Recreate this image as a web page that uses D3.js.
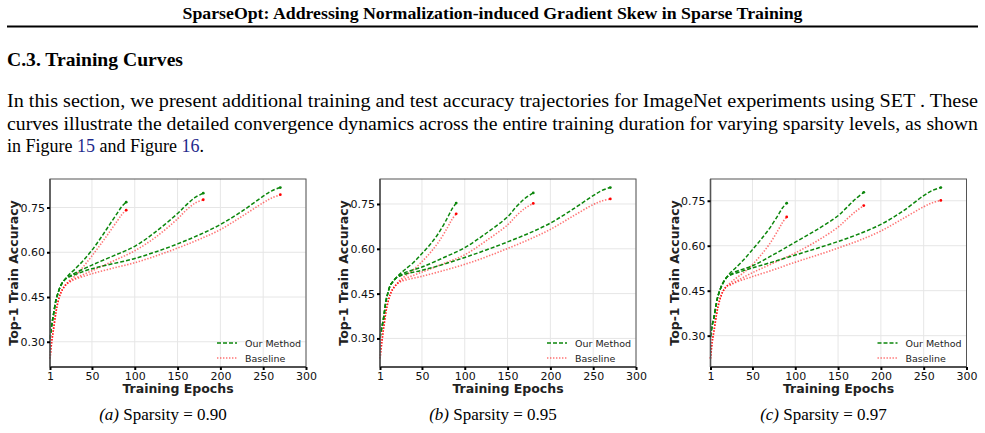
<!DOCTYPE html>
<html>
<head>
<meta charset="utf-8">
<script src="https://cdn.jsdelivr.net/npm/d3@7/dist/d3.min.js"></script>
<style>
  body { margin: 0; background: #fff; }
  svg { display: block; }
</style>
</head>
<body>
<div id="page"></div>
<script>
const epochs90 = [1, 3, 5, 8, 10, 13, 16, 20, 25, 30, 40, 50, 60, 70, 80, 85, 90];
const epochs180 = [1, 3, 5, 8, 10, 13, 16, 20, 25, 30, 50, 75, 100, 125, 150, 160, 170, 180];
const epochs270 = [1, 3, 5, 8, 10, 13, 16, 20, 25, 30, 50, 75, 100, 125, 150, 175, 200, 225, 250, 260, 270];

// (a) sparsity 0.90
const aOur90 = [0.31, 0.355, 0.39, 0.44, 0.46, 0.485, 0.5, 0.515, 0.53, 0.543, 0.573, 0.607, 0.647, 0.69, 0.733, 0.754, 0.768];
const aBase90 = [0.244, 0.3, 0.34, 0.4, 0.43, 0.46, 0.477, 0.494, 0.508, 0.52, 0.552, 0.588, 0.626, 0.666, 0.707, 0.727, 0.741];
const aOur180 = [0.31, 0.355, 0.39, 0.44, 0.46, 0.485, 0.5, 0.513, 0.522, 0.53, 0.557, 0.588, 0.62, 0.67, 0.73, 0.758, 0.783, 0.798];
const aBase180 = [0.244, 0.3, 0.34, 0.4, 0.43, 0.46, 0.477, 0.493, 0.504, 0.512, 0.538, 0.571, 0.605, 0.652, 0.712, 0.741, 0.764, 0.776];
const aOur270 = [0.31, 0.355, 0.39, 0.44, 0.46, 0.485, 0.5, 0.512, 0.519, 0.525, 0.545, 0.562, 0.579, 0.602, 0.628, 0.658, 0.693, 0.737, 0.788, 0.806, 0.817];
const aBase270 = [0.244, 0.3, 0.34, 0.4, 0.43, 0.46, 0.477, 0.492, 0.502, 0.509, 0.528, 0.547, 0.565, 0.588, 0.614, 0.643, 0.676, 0.72, 0.766, 0.782, 0.793];

// (b) sparsity 0.95
const bOur90 = [0.303, 0.335, 0.365, 0.425, 0.45, 0.478, 0.49, 0.503, 0.518, 0.53, 0.554, 0.584, 0.616, 0.655, 0.705, 0.733, 0.753];
const bBase90 = [0.233, 0.285, 0.33, 0.39, 0.418, 0.448, 0.465, 0.48, 0.497, 0.508, 0.53, 0.557, 0.588, 0.625, 0.672, 0.698, 0.717];
const bOur180 = [0.303, 0.335, 0.365, 0.425, 0.45, 0.478, 0.49, 0.503, 0.512, 0.52, 0.539, 0.57, 0.604, 0.652, 0.707, 0.74, 0.768, 0.787];
const bBase180 = [0.233, 0.285, 0.33, 0.39, 0.418, 0.448, 0.465, 0.48, 0.493, 0.5, 0.522, 0.55, 0.58, 0.627, 0.68, 0.71, 0.735, 0.752];
const bOur270 = [0.303, 0.335, 0.365, 0.425, 0.45, 0.478, 0.49, 0.503, 0.51, 0.515, 0.528, 0.548, 0.571, 0.596, 0.623, 0.652, 0.686, 0.73, 0.778, 0.795, 0.805];
const bBase270 = [0.233, 0.285, 0.33, 0.39, 0.418, 0.448, 0.465, 0.48, 0.49, 0.495, 0.508, 0.527, 0.548, 0.573, 0.601, 0.631, 0.665, 0.707, 0.748, 0.76, 0.767];

// (c) sparsity 0.97
const cOur90 = [0.297, 0.335, 0.36, 0.41, 0.435, 0.46, 0.478, 0.495, 0.512, 0.525, 0.554, 0.587, 0.621, 0.658, 0.702, 0.726, 0.742];
const cBase90 = [0.224, 0.28, 0.315, 0.37, 0.4, 0.43, 0.45, 0.465, 0.478, 0.49, 0.511, 0.537, 0.569, 0.606, 0.652, 0.677, 0.696];
const cOur180 = [0.297, 0.335, 0.36, 0.41, 0.435, 0.46, 0.478, 0.495, 0.505, 0.513, 0.533, 0.571, 0.612, 0.653, 0.7, 0.727, 0.755, 0.778];
const cBase180 = [0.224, 0.28, 0.315, 0.37, 0.4, 0.43, 0.45, 0.465, 0.472, 0.48, 0.51, 0.543, 0.576, 0.615, 0.662, 0.688, 0.713, 0.734];
const cOur270 = [0.297, 0.335, 0.36, 0.41, 0.435, 0.46, 0.478, 0.495, 0.503, 0.508, 0.526, 0.547, 0.569, 0.591, 0.614, 0.64, 0.671, 0.714, 0.767, 0.784, 0.794];
const cBase270 = [0.224, 0.28, 0.315, 0.37, 0.4, 0.43, 0.45, 0.465, 0.47, 0.477, 0.497, 0.52, 0.545, 0.568, 0.592, 0.618, 0.649, 0.689, 0.73, 0.743, 0.751];

const xTicks = [1, 50, 100, 150, 200, 250, 300];
const yTicks = [0.3, 0.45, 0.6, 0.75];
const seriesNames = ["Our Method", "Baseline"];
const captionLetters = ["(a)", "(b)", "(c)"];
const captionTexts = ["Sparsity = 0.90", "Sparsity = 0.95", "Sparsity = 0.97"];

const W = 985, H = 433;
const serif = "'Liberation Serif', 'Times New Roman', serif";
const sans = "'DejaVu Sans', sans-serif";
const green = "#0b860b", red = "#ff0000";

const svg = d3.select("#page").append("svg").attr("width", W).attr("height", H);

// ---- page text ----
svg.append("text")
  .attr("x", W / 2).attr("y", 19)
  .attr("text-anchor", "middle")
  .attr("font-family", serif).attr("font-weight", "bold").attr("font-size", 16)
  .attr("textLength", 620).attr("lengthAdjust", "spacingAndGlyphs")
  .text("SparseOpt: Addressing Normalization-induced Gradient Skew in Sparse Training");

svg.append("line")
  .attr("x1", 7).attr("x2", 978).attr("y1", 26.5).attr("y2", 26.5)
  .attr("stroke", "#000").attr("stroke-width", 1.8);

svg.append("text")
  .attr("x", 7).attr("y", 66)
  .attr("font-family", serif).attr("font-weight", "bold").attr("font-size", 19)
  .attr("textLength", 176).attr("lengthAdjust", "spacingAndGlyphs")
  .text("C.3. Training Curves");

const para = [
  "In this section, we present additional training and test accuracy trajectories for ImageNet experiments using SET . These",
  "curves illustrate the detailed convergence dynamics across the entire training duration for varying sparsity levels, as shown"
];
para.forEach((t, i) => {
  svg.append("text")
    .attr("x", 7).attr("y", 107 + i * 22.5)
    .attr("font-family", serif).attr("font-size", 18)
    .attr("textLength", 971).attr("lengthAdjust", "spacingAndGlyphs")
    .text(t);
});
const lastLine = svg.append("text")
  .attr("x", 7).attr("y", 152)
  .attr("font-family", serif).attr("font-size", 18);
lastLine.append("tspan").text("in Figure ");
lastLine.append("tspan").attr("fill", "#1f2a8c").text("15");
lastLine.append("tspan").text(" and Figure ");
lastLine.append("tspan").attr("fill", "#1f2a8c").text("16");
lastLine.append("tspan").text(".");

// ---- panels ----
const panels = [
  { left: 50, runs: [[epochs90, aOur90, aBase90], [epochs180, aOur180, aBase180], [epochs270, aOur270, aBase270]] },
  { left: 380, runs: [[epochs90, bOur90, bBase90], [epochs180, bOur180, bBase180], [epochs270, bOur270, bBase270]] },
  { left: 710.5, runs: [[epochs90, cOur90, cBase90], [epochs180, cOur180, cBase180], [epochs270, cOur270, cBase270]] }
];

const plotTop = 179, pw = 256, ph = 188;

panels.forEach((p, k) => {
  const g = svg.append("g").attr("transform", `translate(${p.left},${plotTop})`);

  const allVals = p.runs.flatMap((r) => r[1].concat(r[2]));
  const lo = d3.min(allVals), hi = d3.max(allVals);
  const pad = (hi - lo) * 0.05;

  const x = d3.scaleLinear().domain([1, 300]).range([0, pw]);
  const y = d3.scaleLinear().domain([lo - pad, hi + pad]).range([ph, 0]);

  // grid
  g.append("g").selectAll("line").data(xTicks).join("line")
    .attr("x1", (d) => x(d)).attr("x2", (d) => x(d))
    .attr("y1", 0).attr("y2", ph)
    .attr("stroke", "#e6e6e6").attr("stroke-width", 1);
  g.append("g").selectAll("line").data(yTicks).join("line")
    .attr("x1", 0).attr("x2", pw)
    .attr("y1", (d) => y(d)).attr("y2", (d) => y(d))
    .attr("stroke", "#e6e6e6").attr("stroke-width", 1);

  // curves
  const line = d3.line().x((d) => x(d[0])).y((d) => y(d[1])).curve(d3.curveCatmullRom.alpha(0.5));
  p.runs.forEach(([ep, ours, base]) => {
    const baseData = ep.map((e, i) => [e, base[i]]);
    const ourData = ep.map((e, i) => [e, ours[i]]);
    g.append("path").datum(baseData)
      .attr("d", line).attr("fill", "none")
      .attr("stroke", red).attr("stroke-opacity", 0.55)
      .attr("stroke-width", 1.6).attr("stroke-dasharray", "1.4,1.6");
    g.append("path").datum(ourData)
      .attr("d", line).attr("fill", "none")
      .attr("stroke", green).attr("stroke-width", 1.5)
      .attr("stroke-dasharray", "4,2");
    g.append("circle").datum(baseData[baseData.length - 1])
      .attr("cx", (d) => x(d[0])).attr("cy", (d) => y(d[1]))
      .attr("r", 1.4).attr("fill", red);
    g.append("circle").datum(ourData[ourData.length - 1])
      .attr("cx", (d) => x(d[0])).attr("cy", (d) => y(d[1]))
      .attr("r", 1.4).attr("fill", green);
  });

  // frame
  g.append("rect").attr("width", pw).attr("height", ph)
    .attr("fill", "none").attr("stroke", "#555").attr("stroke-width", 1);
  g.append("line").attr("x1", 0).attr("x2", 0).attr("y1", 0).attr("y2", ph)
    .attr("stroke", "#555").attr("stroke-width", 1.6);
  g.append("line").attr("x1", 0).attr("x2", pw).attr("y1", ph).attr("y2", ph)
    .attr("stroke", "#333").attr("stroke-width", 1.6);

  // axes
  const xAxis = g.append("g").attr("transform", `translate(0,${ph})`)
    .call(d3.axisBottom(x).tickValues(xTicks).tickSize(3).tickPadding(2).tickFormat(d3.format("d")));
  const yAxis = g.append("g")
    .call(d3.axisLeft(y).tickValues(yTicks).tickSize(3).tickPadding(2).tickFormat(d3.format(".2f")));
  [xAxis, yAxis].forEach((a) => {
    a.select(".domain").remove();
    a.selectAll(".tick line").attr("stroke", "#000").attr("stroke-width", 2);
    a.selectAll(".tick text").attr("font-family", sans).attr("font-size", 11).attr("fill", "#111");
  });

  g.append("text")
    .attr("x", pw / 2).attr("y", ph + 26)
    .attr("text-anchor", "middle")
    .attr("font-family", sans).attr("font-weight", "bold").attr("font-size", 12.5).attr("fill", "#222")
    .text("Training Epochs");
  g.append("text")
    .attr("transform", `translate(-32,${ph / 2}) rotate(-90)`)
    .attr("text-anchor", "middle")
    .attr("font-family", sans).attr("font-weight", "bold").attr("font-size", 12.5).attr("fill", "#222")
    .text("Top-1 Train Accuracy");

  // legend
  const lg = g.append("g").attr("transform", `translate(${pw - 89},${ph - 24})`);
  seriesNames.forEach((name, i) => {
    const row = lg.append("g").attr("transform", `translate(0,${i * 15})`);
    row.append("line").attr("x1", 0).attr("x2", 20)
      .attr("stroke", i === 0 ? green : red)
      .attr("stroke-opacity", i === 0 ? 1 : 0.55)
      .attr("stroke-width", i === 0 ? 1.5 : 1.6)
      .attr("stroke-dasharray", i === 0 ? "4,2" : "1.4,1.6");
    row.append("text").attr("x", 28).attr("y", 3.5)
      .attr("font-family", sans).attr("font-size", 9.5).attr("fill", "#222")
      .text(name);
  });

  // caption
  const cap = svg.append("text")
    .attr("x", p.left + pw / 2 - 15).attr("y", 420)
    .attr("text-anchor", "middle")
    .attr("font-family", serif).attr("font-size", 17);
  cap.append("tspan").attr("font-style", "italic").text(captionLetters[k]);
  cap.append("tspan").text(" " + captionTexts[k]);
});
</script>
</body>
</html>
